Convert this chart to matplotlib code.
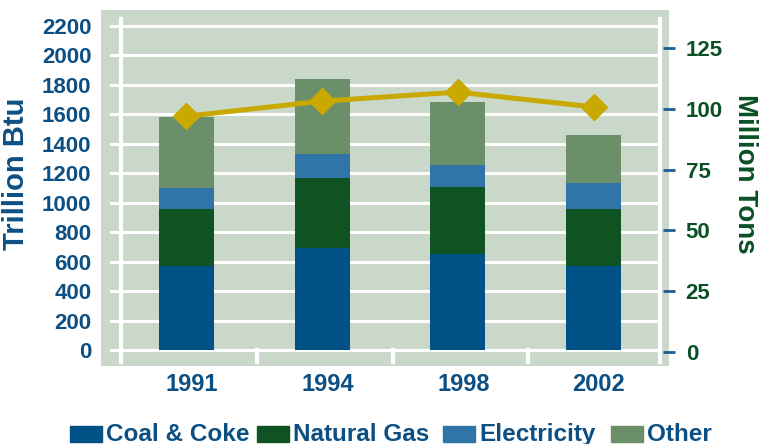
import matplotlib.pyplot as plt
from matplotlib.patches import Rectangle

plt.rcParams['font.family'] = ['Liberation Sans', 'DejaVu Sans']
plt.rcParams['font.weight'] = 'bold'

years = ['1991', '1994', '1998', '2002']
coal = [569, 697, 650, 575]
natural_gas = [392, 468, 454, 386]
electricity = [136, 162, 155, 176]
other = [487, 508, 420, 319]
tons = [97.0, 103.2, 106.9, 100.8]

names = ['Coal & Coke', 'Natural Gas', 'Electricity', 'Other']
colors = ['#005186', '#0F5322', '#2F75A7', '#6A8F69']
blue_txt = '#0C4F83'
green_txt = '#0B5024'

fig = plt.figure(figsize=(7.74, 4.44), dpi=100)
ax = fig.add_axes([101 / 774, 1 - 366 / 444, 568 / 774, 356 / 444])
ax.set_facecolor('#CAD8CA')
for s in ax.spines.values():
    s.set_visible(False)

x = list(range(len(years)))
ax.set_xlim(-0.630, 3.556)
ax.set_ylim(-105, 2305)

# white grid and frame lines
for v in range(0, 2201, 200):
    ax.plot([-0.556, 3.474], [v, v], color='white', lw=2.2, zorder=1)
ax.plot([-0.479, -0.479], [-75, 2245], color='white', lw=3, zorder=1)
ax.plot([3.493, 3.493], [-75, 2245], color='white', lw=3, zorder=1)
for sep in [0.52, 1.522, 2.516]:
    ax.plot([sep, sep], [0, -75], color='white', lw=3, zorder=1)

bottom = [0] * len(years)
for vals, c in zip([coal, natural_gas, electricity, other], colors):
    ax.bar(x, vals, width=0.405, bottom=bottom, color=c, zorder=2)
    bottom = [b + v for b, v in zip(bottom, vals)]

ax.set_yticks(range(0, 2201, 200))
ax.tick_params(axis='y', length=0, pad=7, labelsize=16, labelcolor=blue_txt)
ax.set_xticks([i + 0.04 for i in x])
ax.set_xticklabels(years)
ax.tick_params(axis='x', length=0, pad=5, labelsize=17, labelcolor=blue_txt)
ax.set_ylabel('Trillion Btu', fontsize=21, fontweight='bold', color=blue_txt)
ax.yaxis.set_label_coords(-0.125, 0.54)

ax2 = ax.twinx()
for s in ax2.spines.values():
    s.set_visible(False)
ax2.set_ylim(-5.8, 140.7)
ax2.plot(x, tons, color='#C9A800', lw=3.6, marker='D', markersize=13, zorder=3)
ax2.set_yticks([0, 25, 50, 75, 100, 125])
ax2.tick_params(axis='y', direction='inout', length=8, width=2, color='#1D5E92',
                pad=8, labelsize=16, labelcolor=green_txt)
ax2.set_ylabel('Million Tons', fontsize=20, fontweight='bold', color=green_txt,
               rotation=-90, va='center')
ax2.yaxis.set_label_coords(1.134, 0.54)

# legend along the bottom
lx = [70, 257, 443, 611]
for px, name, c in zip(lx, names, colors):
    fig.patches.append(Rectangle((px / 774, 1 - 442 / 444), 32 / 774, 16 / 444,
                                 transform=fig.transFigure, color=c))
    fig.text((px + 36) / 774, 1 - 434 / 444, name, fontsize=17.5, color=blue_txt,
             va='center', ha='left')

fig.savefig('out.png', dpi=100)
